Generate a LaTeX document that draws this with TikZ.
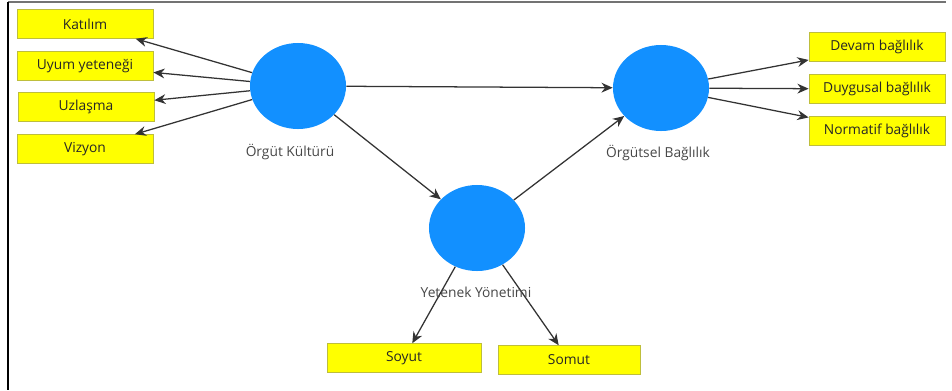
\documentclass[tikz,border=0pt]{standalone}
\usepackage{fontspec}
\setmainfont{Open Sans}
\usepackage{xcolor}
\usetikzlibrary{arrows.meta, positioning, shapes.geometric}
\definecolor{lv-blue}{RGB}{18, 144, 255}
\definecolor{ind-yellow}{RGB}{255, 255, 0}
\definecolor{ind-edge}{RGB}{190, 190, 60}

\begin{document}
\begin{tikzpicture}[x=0.025cm, y=-0.025cm,
        ind/.style={rectangle, draw=ind-edge, fill=ind-yellow, line width=0.5pt,
                    minimum width=3.4cm, minimum height=0.72cm,
                    inner sep=0pt, font=\fontsize{9.8}{11}\selectfont,
                    text=black!85},
        lv/.style={ellipse, fill=lv-blue, minimum width=2.4cm,
                   minimum height=2.15cm, inner sep=0pt},
        lvname/.style={font=\fontsize{9.8}{11}\selectfont, text=black!72},
        arr/.style={-{Stealth[length=8pt, width=7pt]}, line width=0.9pt,
                    color=black!80}
      ]
        \useasboundingbox (0,0) rectangle (952,390);
        % frame lines
        \draw[black!55, line width=1pt] (8,2) -- (946,2);
        \draw[black, line width=1.2pt] (8,2) -- (8,390);

        % latent variables
        \node[lv] (ok) at (298,86) {};
        \node[lv] (ob) at (661,88) {};
        \node[lv] (yy) at (477,228) {};
        \node[lvname] (okname) at (290,152) {Örgüt Kültürü};
        \node[lvname] (obname) at (658,153) {Örgütsel Bağlılık};

        % indicators
        \node[ind] (kat) at (85,24) {Katılım};
        \node[ind] (uyum) at (85,66) {Uyum yeteneği};
        \node[ind] (uzl) at (86,107) {Uzlaşma};
        \node[ind] (viz) at (85,149) {Vizyon};
        \node[ind] (dev) at (877,47) {Devam bağlılık};
        \node[ind] (duy) at (877,89) {Duygusal bağlılık};
        \node[ind] (nor) at (877,131) {Normatif bağlılık};
        \node[ind, minimum width=3.85cm] (soy) at (404,358) {Soyut};
        \node[ind, minimum width=3.55cm] (som) at (569,360) {Somut};

        % paths
        \draw[arr] (ok) -- (kat);
        \draw[arr] (ok) -- (uyum);
        \draw[arr] (ok) -- (uzl);
        \draw[arr] (ok) -- (viz);
        \draw[arr] (ok) -- (ob);
        \draw[arr] (ok) -- (yy);
        \draw[arr] (yy) -- (ob);
        \draw[arr] (ob) -- (dev);
        \draw[arr] (ob) -- (duy);
        \draw[arr] (ob) -- (nor);
        \draw[arr] (yy) -- (soy);
        \draw[arr] (yy) -- (som);
        \node[lvname] (yyname) at (476,292) {Yetenek Yönetimi};
      \end{tikzpicture}
\end{document}
